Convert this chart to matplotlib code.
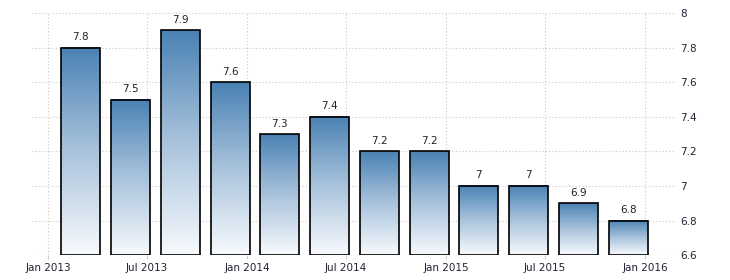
import numpy as np
import matplotlib
matplotlib.use('Agg')
import matplotlib.pyplot as plt
import matplotlib.dates as mdates
from matplotlib.colors import LinearSegmentedColormap

# Quarterly values (quarter end dates)
quarter_ends = ['2013-03-31', '2013-06-30', '2013-09-30', '2013-12-31',
                '2014-03-31', '2014-06-30', '2014-09-30', '2014-12-31',
                '2015-03-31', '2015-06-30', '2015-09-30', '2015-12-31']
values = [7.8, 7.5, 7.9, 7.6, 7.3, 7.4, 7.2, 7.2, 7.0, 7.0, 6.9, 6.8]

tick_dates = ['2013-01-01', '2013-07-01', '2014-01-01', '2014-07-01',
              '2015-01-01', '2015-07-01', '2016-01-01']
tick_labels = ['Jan 2013', 'Jul 2013', 'Jan 2014', 'Jul 2014',
               'Jan 2015', 'Jul 2015', 'Jan 2016']
y_ticks = [6.6, 6.8, 7.0, 7.2, 7.4, 7.6, 7.8, 8.0]
y_min, y_max = 6.6, 8.0

fig = plt.figure(figsize=(7.3, 2.8), dpi=100)
ax = fig.add_axes([0.044, 0.089, 0.882, 0.864])

cmap = LinearSegmentedColormap.from_list('grad', ['#f7fafd', '#a9c3dc', '#4a82b4'])
grad = np.linspace(1, 0, 256).reshape(-1, 1)

x = mdates.datestr2num(quarter_ends) - 30
genislik = 71
vals = np.array(values)

bars = ax.bar(x, vals - y_min, bottom=y_min, width=genislik, facecolor='none',
              edgecolor='black', linewidth=1.2, zorder=3)

for b, v in zip(bars, vals):
    b.set_joinstyle('miter')
    x0 = b.get_x()
    ax.imshow(grad, extent=[x0, x0 + b.get_width(), y_min, v], aspect='auto',
              cmap=cmap, origin='upper', zorder=2, clip_path=b, clip_on=True)
    ax.annotate(f'{v:g}', (x0 + b.get_width() / 2, v), xytext=(0, 4),
                textcoords='offset points', ha='center', va='bottom',
                fontsize=7.5, color='#222222')

ax.set_xlim(mdates.datestr2num('2013-01-01') - 30, mdates.datestr2num('2016-01-01') + 56)
ax.set_ylim(y_min, y_max)

ax.set_xticks(mdates.datestr2num(tick_dates))
ax.set_xticklabels(tick_labels)
ax.set_yticks(y_ticks)
ax.set_yticklabels([f'{t:g}' for t in y_ticks])
ax.yaxis.tick_right()

ax.tick_params(axis='x', length=3, color='#cccccc', pad=3, labelsize=7.5, labelcolor='#222233')
ax.tick_params(axis='y', length=0, pad=3, labelsize=7.5, labelcolor='#222233')

for s in ax.spines.values():
    s.set_visible(False)

ax.grid(True, linestyle=(0, (1, 2)), color='#c8c8c8', linewidth=0.8, zorder=0)
ax.set_axisbelow(True)

fig.savefig('out.png', dpi=100)
